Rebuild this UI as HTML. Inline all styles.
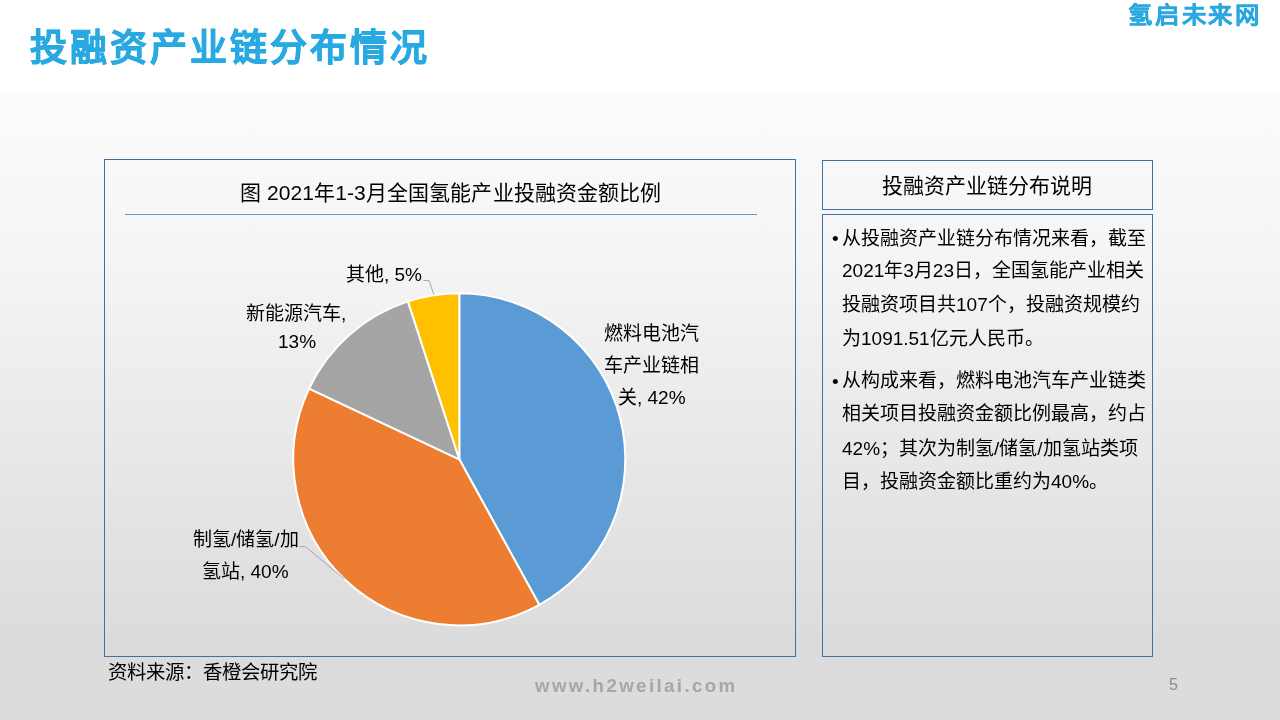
<!DOCTYPE html>
<html lang="zh-CN">
<head>
<meta charset="utf-8">
<style>
*{margin:0;padding:0;box-sizing:border-box;}
html,body{width:1280px;height:720px;overflow:hidden;}
body{position:relative;font-family:"Liberation Sans",sans-serif;color:#000;
background:linear-gradient(to bottom,#ffffff 0px,#ffffff 90px,#fcfcfc 91px,#f4f4f4 270px,#dcdcdc 630px,#dcdcdc 720px);}
.a{position:absolute;white-space:nowrap;will-change:transform;}
.title{left:30px;top:25px;font-size:37px;letter-spacing:3px;font-weight:bold;color:#29a9e1;line-height:48px;-webkit-text-stroke:0.7px #29a9e1;}
.logo{left:1127.8px;top:0.5px;font-size:22.6px;font-weight:bold;color:#2aa7e0;letter-spacing:1.8px;line-height:30px;transform:scaleX(1.08);transform-origin:0 0;-webkit-text-stroke:0.25px #2aa7e0;}
.box{position:absolute;border:1.3px solid #41719c;}
.ctitle{left:240px;top:178px;font-size:21px;line-height:30px;letter-spacing:0.1px;}
.hline{position:absolute;left:125px;top:214px;width:632px;height:1px;background:#5b9bd5;}
.lbl{font-size:19px;line-height:24px;}
.rhead{left:882px;top:171px;font-size:21px;line-height:30px;}
.body{font-size:19px;line-height:24px;}
.src{left:108px;top:660px;font-size:19.4px;line-height:24px;}
.url{left:535px;top:674px;font-size:18.67px;font-weight:bold;color:#a6a6a6;letter-spacing:2.4px;line-height:24px;}
.pn{left:1169px;top:674.5px;font-size:16px;color:#8c8c8c;line-height:20px;}
</style>
</head>
<body>
<div class="a title">投融资产业链分布情况</div>
<div class="a logo">氢启未来网</div>

<div class="box" style="left:104px;top:159px;width:692px;height:498px;"></div>
<div class="a ctitle">图 2021年1-3月全国氢能产业投融资金额比例</div>
<div class="hline"></div>

<svg class="a" style="left:0;top:0;" width="1280" height="720" viewBox="0 0 1280 720">
<g stroke="#ffffff" stroke-width="2" stroke-linejoin="round">
<path d="M459.3,459.3 L459.30,293.30 A166,166 0 0 1 539.27,604.77 Z" fill="#5b9bd5"/>
<path d="M459.3,459.3 L539.27,604.77 A166,166 0 0 1 309.10,388.62 Z" fill="#ed7d31"/>
<path d="M459.3,459.3 L309.10,388.62 A166,166 0 0 1 408.00,301.42 Z" fill="#a5a5a5"/>
<path d="M459.3,459.3 L408.00,301.42 A166,166 0 0 1 459.30,293.30 Z" fill="#ffc000"/>
</g>
<polyline points="423.5,280.5 429,280.5 433.8,294.5" fill="none" stroke="#a6a6a6" stroke-width="1"/>
<polyline points="299.5,546.5 305.2,546.5 344.5,579" fill="none" stroke="#a6a6a6" stroke-width="1"/>
</svg>

<div class="a lbl" style="left:346px;top:262.5px;">其他, 5%</div>
<div class="a lbl" style="left:246px;top:302px;">新能源汽车,</div>
<div class="a lbl" style="left:278px;top:330px;">13%</div>
<div class="a lbl" style="left:604px;top:322px;">燃料电池汽</div>
<div class="a lbl" style="left:604px;top:354px;">车产业链相</div>
<div class="a lbl" style="left:618px;top:386px;">关, 42%</div>
<div class="a lbl" style="left:193px;top:528px;">制氢/储氢/加</div>
<div class="a lbl" style="left:202px;top:560px;">氢站, 40%</div>

<div class="box" style="left:822px;top:160px;width:331px;height:50px;"></div>
<div class="a rhead">投融资产业链分布说明</div>
<div class="box" style="left:822px;top:214px;width:331px;height:443px;"></div>

<div class="a body" style="left:832px;top:226.5px;">•</div>
<div class="a body" style="left:842px;top:227px;">从投融资产业链分布情况来看，截至</div>
<div class="a body" style="left:842px;top:259px;">2021年3月23日，全国氢能产业相关</div>
<div class="a body" style="left:842px;top:293px;">投融资项目共107个，投融资规模约</div>
<div class="a body" style="left:842px;top:327px;">为1091.51亿元人民币。</div>
<div class="a body" style="left:832px;top:369.5px;">•</div>
<div class="a body" style="left:842px;top:369px;">从构成来看，燃料电池汽车产业链类</div>
<div class="a body" style="left:842px;top:402px;">相关项目投融资金额比例最高，约占</div>
<div class="a body" style="left:842px;top:437px;">42%；其次为制氢/储氢/加氢站类项</div>
<div class="a body" style="left:842px;top:470px;">目，投融资金额比重约为40%。</div>

<div class="a src">资料来源：香橙会研究院</div>
<div class="a url">www.h2weilai.com</div>
<div class="a pn">5</div>
</body>
</html>
